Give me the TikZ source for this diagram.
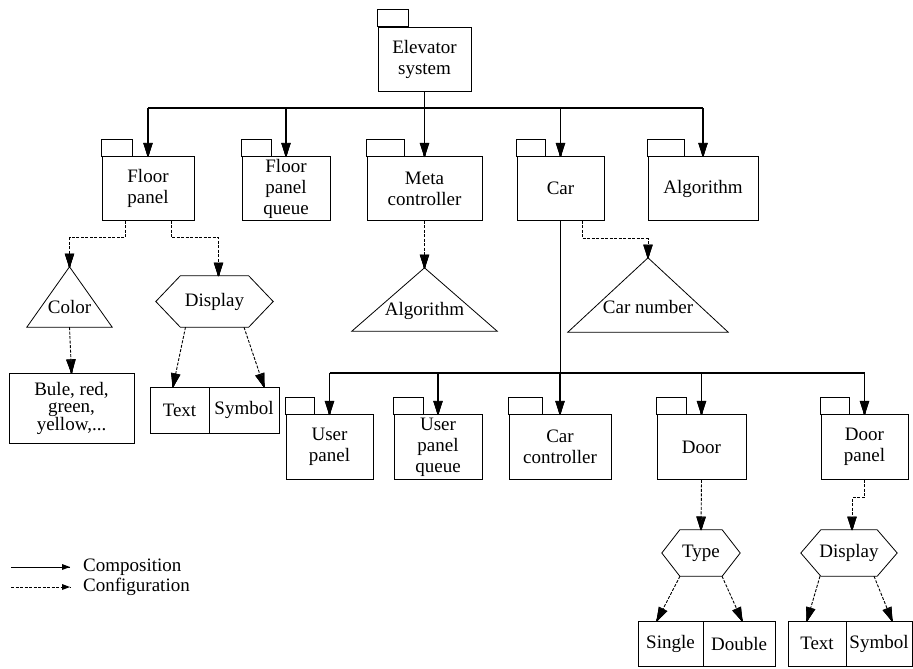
\documentclass[tikz,border=0pt]{standalone}
\usepackage{fontspec}
\setmainfont{Liberation Serif}
\usepackage{tikz}
\usetikzlibrary{positioning,decorations.markings}

\begin{document}
\begin{tikzpicture}[x=1pt, y=1pt,
  font=\fontsize{19pt}{21pt}\selectfont,
  pkg/.style  = {rectangle, draw, line width=0.8pt, inner sep=0pt,
                 align=center, minimum height=64pt},
  tab/.style  = {line width=0.8pt},
  cell/.style = {rectangle, draw, line width=0.8pt, inner sep=0pt,
                 align=center, minimum height=46pt},
  tri/.style  = {inner sep=0pt, text depth=5pt, text height=#1},
  hexa/.style = {inner sep=0pt, minimum height=46pt},
  bus/.style  = {line width=1.3pt},
  headbig/.style = {postaction={decorate}, decoration={markings,
      mark=at position 1 with {
        \foreach \s in {-4,-3,...,4}
          \draw[solid, line width=1.2pt] (0pt,0pt) -- (-13pt,\s pt);
        \draw[solid, line width=0.6pt, line join=miter]
          (0pt,0pt) -- (-13pt,4.5pt) -- (-13pt,-4.5pt) -- cycle;}}},
  headsml/.style = {postaction={decorate}, decoration={markings,
      mark=at position 1 with {\fill[solid] (0pt,0pt) -- (-8pt,3pt) -- (-8pt,-3pt) -- cycle;}}},
  comp/.style = {headbig, line width=1.3pt},
  conf/.style = {headbig, line width=0.9pt, dash pattern=on 3pt off 1.5pt}
]
\useasboundingbox (0,0) rectangle (913,-669);

% --- packages, top level
\node[pkg, minimum width=93pt]  (sys)   at (424.5,-59)  {Elevator\\system};
\node[pkg, minimum width=92pt]  (floor) at (148,-188.5) {Floor\\panel};
\node[pkg, minimum width=88pt]  (fpq)   at (286,-188.5) {Floor\\panel\\queue};
\node[pkg, minimum width=115pt] (meta)  at (424.5,-188.5) {Meta\\controller};
\node[pkg, minimum width=87pt]  (car)   at (560.5,-188.5) {Car};
\node[pkg, minimum width=110pt] (algo)  at (703,-188.5) {Algorithm};

% --- packages, car level
\node[pkg, minimum width=87pt,  minimum height=65pt] (user)   at (329.5,-447) {User\\panel};
\node[pkg, minimum width=88pt,  minimum height=65pt] (upq)    at (438,-447)   {User\\panel\\queue};
\node[pkg, minimum width=102pt, minimum height=65pt] (cctrl)  at (560,-447)   {Car\\controller};
\node[pkg, minimum width=89pt,  minimum height=65pt] (door)   at (701.5,-447) {Door};
\node[pkg, minimum width=87pt,  minimum height=65pt] (dpanel) at (864.5,-447) {Door\\panel};

% --- package tabs
\foreach \n/\w in {sys/31pt, floor/31pt, fpq/30pt, meta/38pt, car/29pt, algo/37pt,
                   user/29pt, upq/30pt, cctrl/34pt, door/30pt, dpanel/29pt}
  \draw[tab] (\n.north west) rectangle ++(\w,17pt);

% --- options (triangles)
\node[tri=37pt, minimum width=85pt,  minimum height=60pt] (color)   at (69.5,-297)  {Color};
\node[tri=36pt, minimum width=145pt, minimum height=63pt] (metaalg) at (424.5,-299.5) {Algorithm};
\node[tri=41pt, minimum width=160pt, minimum height=74pt] (carno)   at (648,-295)   {Car number};
\foreach \n in {color, metaalg, carno}
  \draw[line width=0.8pt] (\n.north) -- (\n.south east) -- (\n.south west) -- cycle;

% --- variation points (hexagons)
\node[hexa, minimum width=117pt, minimum height=51pt] (disp)  at (214.5,-301.5) {Display};
\node[hexa, minimum width=78pt]  (type)  at (701,-553) {Type};
\node[hexa, minimum width=96pt]  (disp2) at (849,-553) {Display};
\foreach \n/\d in {disp/24.5pt, type/18pt, disp2/20pt}
  \draw[line width=0.8pt] ([xshift=\d]\n.north west) -- ([xshift=-\d]\n.north east)
    -- (\n.east) -- ([xshift=-\d]\n.south east) -- ([xshift=\d]\n.south west)
    -- (\n.west) -- cycle;

% --- variants
\node[pkg, minimum width=125pt, minimum height=70pt,
      font=\fontsize{19pt}{17.5pt}\selectfont] (list) at (71.5,-408) {Bule, red,\\green,\\yellow,...};
\node[cell, minimum width=59pt] (txt1)   at (179.5,-410) {Text};
\node[cell, minimum width=70pt] (sym1)   at (244,-410)   {Symbol};
\node[cell, minimum width=65pt, minimum height=45pt] (single) at (670.5,-643.5) {Single};
\node[cell, minimum width=72pt, minimum height=45pt] (double) at (739,-643.5)   {Double};
\node[cell, minimum width=58pt, minimum height=45pt] (txt2)   at (817,-643.5)   {Text};
\node[cell, minimum width=66pt, minimum height=45pt] (sym2)   at (879,-643.5)   {Symbol};

% --- composition
\coordinate (tbus) at (424.5,-108);
\draw[bus] (sys.south) -- (tbus);
\draw[bus] (floor.north |- tbus) -- (algo.north |- tbus);
\foreach \n in {floor, fpq, meta, car, algo}
  \draw[comp] (\n.north |- tbus) -- (\n.north);

\coordinate (lbus) at (560.5,-373);
\draw[bus] (car.south) -- (lbus);
\draw[bus] (user.north |- lbus) -- (dpanel.north |- lbus);
\foreach \n in {user, upq, cctrl, door, dpanel}
  \draw[comp] (\n.north |- lbus) -- (\n.north);

% --- configuration
\draw[conf] ([xshift=-23pt]floor.south) -- ++(0,-17) -| (color.north);
\draw[conf] ([xshift=23pt]floor.south)  -- ++(0,-17) -| ([xshift=4pt]disp.north);
\draw[conf] (color.south) -- (list.north);
\draw[conf] ([xshift=-29pt]disp.south) -- ([xshift=-6.5pt]txt1.north);
\draw[conf] ([xshift=29.5pt]disp.south) -- ([xshift=20pt]sym1.north);
\draw[conf] (meta.south) -- (metaalg.north);
\draw[conf] ([xshift=22pt]car.south) -- ++(0,-18) -| (carno.north);
\draw[conf] (door.south) -- (type.north);
\draw[conf] (dpanel.south) -- ++(0,-18) -| ([xshift=3pt]disp2.north);
\draw[conf] ([xshift=-21pt]type.south) -- ([xshift=-13.5pt]single.north);
\draw[conf] ([xshift=21pt]type.south)  -- ([xshift=3pt]double.north);
\draw[conf] ([xshift=-29pt]disp2.south) -- ([xshift=-10pt]txt2.north);
\draw[conf] ([xshift=25pt]disp2.south)  -- ([xshift=13pt]sym2.north);

% --- legend
\node[anchor=west, inner sep=0pt] (lcomp) at (83,-567) {Composition};
\node[anchor=west, inner sep=0pt] (lconf) at (83,-587) {Configuration};
\coordinate (lgA) at (11,-567);
\coordinate (lgB) at (11,-587);
\draw[headsml, line width=1pt] (lgA) -- ([xshift=-13pt]lcomp.west);
\draw[headsml, line width=0.9pt, dash pattern=on 3pt off 1.5pt] (lgB) -- ([xshift=-13pt]lconf.west);

\end{tikzpicture}
\end{document}
